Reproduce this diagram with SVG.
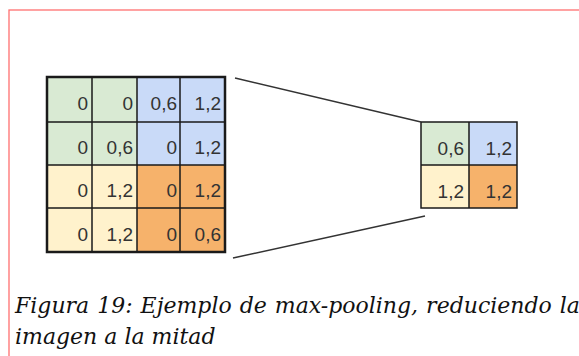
<svg xmlns="http://www.w3.org/2000/svg" width="579" height="356" viewBox="0 0 579 356">
<style>
.g{fill:#d9ead3}.b{fill:#c9daf8}.y{fill:#fff2cc}.o{fill:#f6b26b}
.gl{stroke:#1a1a1a;stroke-width:1.5;fill:none}
.ob{stroke:#1a1a1a;stroke-width:2.5;fill:none}
.t{font-family:"Liberation Sans",Arial,sans-serif;font-size:19px;fill:#333;text-anchor:end}
.cap{font-family:"DejaVu Serif",serif;font-style:italic;font-size:22px;fill:#111}
.ln{stroke:#333;stroke-width:1.5;fill:none}
</style>
<rect width="579" height="356" fill="#fff"/>
<rect x="9" y="10" width="600" height="400" fill="none" stroke="#ff7070" stroke-width="1.3"/>
<g id="input-grid">
<rect class="g" x="47" y="77" width="90" height="88"/>
<rect class="b" x="137" y="77" width="88" height="88"/>
<rect class="y" x="47" y="165" width="90" height="87"/>
<rect class="o" x="137" y="165" width="88" height="87"/>
<path class="gl" d="M92 77V252M137 77V252M180 77V252M47 122H225M47 165H225M47 208H225"/>
<rect class="ob" x="47" y="77" width="178" height="175"/>
<text class="t" x="88" y="110">0</text><text class="t" x="133" y="110">0</text><text class="t" x="177" y="110">0,6</text><text class="t" x="221" y="110">1,2</text>
<text class="t" x="88" y="154">0</text><text class="t" x="133" y="154">0,6</text><text class="t" x="177" y="154">0</text><text class="t" x="221" y="154">1,2</text>
<text class="t" x="88" y="197">0</text><text class="t" x="133" y="197">1,2</text><text class="t" x="177" y="197">0</text><text class="t" x="221" y="197">1,2</text>
<text class="t" x="88" y="241">0</text><text class="t" x="133" y="241">1,2</text><text class="t" x="177" y="241">0</text><text class="t" x="221" y="241">0,6</text>
</g>
<g id="output-grid">
<rect class="g" x="421" y="122" width="48" height="43"/>
<rect class="b" x="469" y="122" width="48" height="43"/>
<rect class="y" x="421" y="165" width="48" height="43"/>
<rect class="o" x="469" y="165" width="48" height="43"/>
<path class="gl" d="M469 122V208M421 165H517"/>
<rect class="gl" x="421" y="122" width="96" height="86"/>
<text class="t" x="464" y="155">0,6</text><text class="t" x="512" y="155">1,2</text>
<text class="t" x="464" y="198">1,2</text><text class="t" x="512" y="198">1,2</text>
</g>
<g id="connectors">
<line class="ln" x1="235" y1="78" x2="421" y2="122"/>
<line class="ln" x1="233" y1="258" x2="425" y2="216"/>
</g>
<g id="caption">
<text class="cap" x="15" y="313" word-spacing="1">Figura 19: Ejemplo de max-pooling, reduciendo la</text>
<text class="cap" x="15" y="344">imagen a la mitad</text>
</g>
</svg>
